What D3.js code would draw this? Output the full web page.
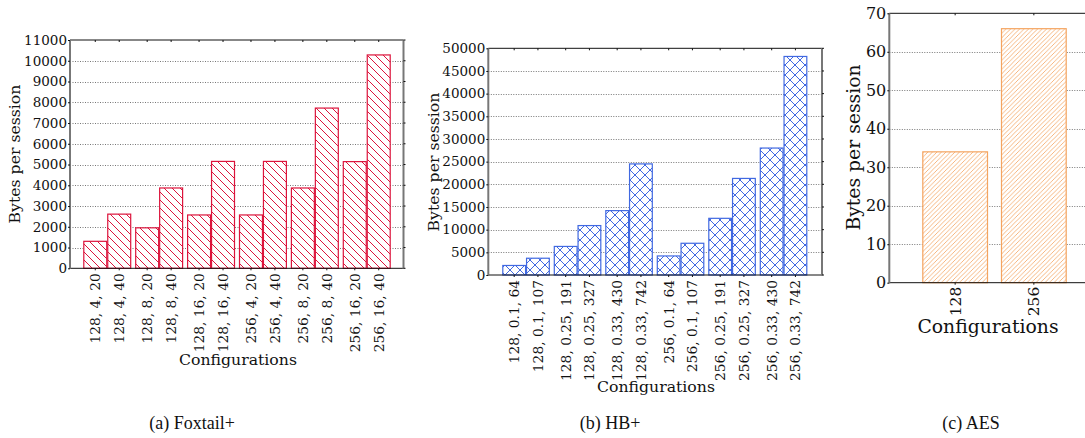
<!DOCTYPE html>
<html>
<head>
<meta charset="utf-8">
<script src="https://cdn.jsdelivr.net/npm/d3@7"></script>
<style>
  html, body { margin: 0; padding: 0; background: #fff; }
  svg { display: block; }
</style>
</head>
<body>
<svg id="chart" width="1085" height="438"></svg>
<script>
// ---------- DATA ----------
const foxtailCategories = ["128, 4, 20", "128, 4, 40", "128, 8, 20", "128, 8, 40", "128, 16, 20", "128, 16, 40",
                           "256, 4, 20", "256, 4, 40", "256, 8, 20", "256, 8, 40", "256, 16, 20", "256, 16, 40"];
const foxtailValues = [1300, 2610, 1950, 3870, 2570, 5150, 2570, 5150, 3870, 7720, 5140, 10280];
const foxtailTicks = [0, 1000, 2000, 3000, 4000, 5000, 6000, 7000, 8000, 9000, 10000, 11000];

const hbCategories = ["128, 0.1, 64", "128, 0.1, 107", "128, 0.25, 191", "128, 0.25, 327", "128, 0.33, 430", "128, 0.33, 742",
                      "256, 0.1, 64", "256, 0.1, 107", "256, 0.25, 191", "256, 0.25, 327", "256, 0.33, 430", "256, 0.33, 742"];
const hbValues = [2100, 3700, 6300, 10900, 14200, 24500, 4200, 7000, 12500, 21300, 28000, 48200];
const hbTicks = [0, 5000, 10000, 15000, 20000, 25000, 30000, 35000, 40000, 45000, 50000];

const aesCategories = ["128", "256"];
const aesValues = [34, 66];
const aesTicks = [0, 10, 20, 30, 40, 50, 60, 70];

const captions = ["(a) Foxtail+", "(b) HB+", "(c) AES"];
const yLabel = "Bytes per session";
const xLabel = "Configurations";

// ---------- DRAW ----------
const svg = d3.select("#chart");
const defs = svg.append("defs");
const FONT = "'DejaVu Serif', serif";

function makePattern(id, size, color, width, kind) {
  const p = defs.append("pattern").attr("id", id)
    .attr("patternUnits", "userSpaceOnUse").attr("width", size).attr("height", size);
  p.append("rect").attr("width", size).attr("height", size).attr("fill", "#fff");
  const add = (x1, y1, x2, y2) => p.append("line").attr("x1", x1).attr("y1", y1).attr("x2", x2).attr("y2", y2)
    .attr("stroke", color).attr("stroke-width", width);
  if (kind === "back" || kind === "cross") {
    add(-1, -1, size + 1, size + 1);
    add(-1, size - 1, 1, size + 1);
    add(size - 1, -1, size + 1, 1);
  }
  if (kind === "fwd" || kind === "cross") {
    add(-1, size + 1, size + 1, -1);
    add(-1, 1, 1, -1);
    add(size - 1, size + 1, size + 1, size - 1);
  }
}
makePattern("hatchA", 8, "#DC143C", 1, "back");
makePattern("hatchB", 10, "#4169E1", 1, "cross");
makePattern("hatchC", 4.5, "#F4A460", 0.8, "fwd");

function panel(o) {
  const g = svg.append("g");
  const y = d3.scaleLinear().domain([0, o.ticks[o.ticks.length - 1]]).range([o.bottom, o.top]);
  const groups = d3.range(Math.ceil(o.categories.length / o.groupSize));
  const gx = d3.scaleBand().domain(groups).range(o.barRange)
    .paddingInner(o.gap).paddingOuter(o.gap / 2);
  const ix = d3.scaleBand().domain(d3.range(o.groupSize)).range([0, gx.bandwidth()]);
  const data = o.categories.map((c, i) => ({ c, v: o.values[i], g: Math.floor(i / o.groupSize), k: i % o.groupSize }));
  const xOf = d => gx(d.g) + ix(d.k);

  // grid
  g.append("g").selectAll("line").data(o.ticks.slice(1, -1)).join("line")
    .attr("x1", o.left).attr("x2", o.right)
    .attr("y1", d => Math.round(y(d)) + 0.5).attr("y2", d => Math.round(y(d)) + 0.5)
    .attr("stroke", "#777").attr("stroke-width", 1).attr("stroke-dasharray", "1,1.5");

  // bars
  g.append("g").selectAll("rect").data(data).join("rect")
    .attr("x", d => xOf(d) + 0.5).attr("width", ix.bandwidth() - 1)
    .attr("y", d => y(d.v)).attr("height", d => y(0) - y(d.v))
    .attr("fill", `url(#${o.pattern})`).attr("stroke", o.color).attr("stroke-width", 1.2);

  // frame
  const right = Math.min(o.right, 1090);
  g.append("line").attr("x1", o.left).attr("x2", right).attr("y1", o.top).attr("y2", o.top)
    .attr("stroke", "#111").attr("stroke-width", 1);
  g.append("line").attr("x1", o.left).attr("x2", right).attr("y1", o.bottom).attr("y2", o.bottom)
    .attr("stroke", "#111").attr("stroke-width", 1);
  g.append("line").attr("x1", o.left).attr("x2", o.left).attr("y1", o.top).attr("y2", o.bottom + 0.5)
    .attr("stroke", "#777").attr("stroke-width", 2);
  if (o.showRight) {
    g.append("line").attr("x1", o.right).attr("x2", o.right).attr("y1", o.top).attr("y2", o.bottom + 0.5)
      .attr("stroke", "#777").attr("stroke-width", 2);
    g.append("g").selectAll("line").data(o.ticks).join("line")
      .attr("x1", o.right).attr("x2", o.right + 2).attr("y1", d => y(d)).attr("y2", d => y(d))
      .attr("stroke", "#111");
  }

  // y axis ticks
  const yAxis = d3.axisLeft(y).tickValues(o.ticks).tickSize(2).tickPadding(1).tickFormat(d3.format("d"));
  const ya = g.append("g").attr("transform", `translate(${o.left},0)`).call(yAxis);
  ya.select(".domain").remove();
  ya.selectAll("line").attr("stroke", "#111");
  ya.selectAll("text").attr("font-family", FONT).attr("font-size", o.yTickFont).attr("fill", "#111");

  // top ticks and bottom ticks at bar centers
  g.append("g").selectAll("line").data(data).join("line")
    .attr("x1", d => xOf(d) + ix.bandwidth() / 2).attr("x2", d => xOf(d) + ix.bandwidth() / 2)
    .attr("y1", o.top).attr("y2", o.top + 2).attr("stroke", "#111");
  g.append("g").selectAll("line").data(data).join("line")
    .attr("x1", d => xOf(d) + ix.bandwidth() / 2).attr("x2", d => xOf(d) + ix.bandwidth() / 2)
    .attr("y1", o.bottom).attr("y2", o.bottom + 2).attr("stroke", "#111");

  // x tick labels (rotated)
  g.append("g").selectAll("text").data(data).join("text")
    .attr("transform", d => `translate(${xOf(d) + ix.bandwidth() / 2},${o.bottom + o.labelGap}) rotate(-90)`)
    .attr("text-anchor", "end").attr("dy", "0.35em")
    .attr("font-family", FONT).attr("font-size", o.xTickFont).attr("fill", "#111")
    .text(d => d.c);

  // axis labels
  g.append("text").attr("transform", `translate(${o.yLabelX},${o.yLabelY}) rotate(-90)`)
    .attr("text-anchor", "middle").attr("dy", "0.35em")
    .attr("font-family", FONT).attr("font-size", o.labelFont).attr("fill", "#111").text(yLabel);
  g.append("text").attr("x", o.xLabelX).attr("y", o.xLabelY)
    .attr("text-anchor", "middle")
    .attr("font-family", FONT).attr("font-size", o.labelFont).attr("fill", "#111").text(xLabel);

  // caption
  svg.append("text").attr("x", o.captionX).attr("y", 429).attr("text-anchor", "middle")
    .attr("font-family", "'Liberation Serif', serif").attr("font-size", 18).attr("fill", "#111")
    .text(o.caption);
}

panel({
  categories: foxtailCategories, values: foxtailValues, ticks: foxtailTicks,
  left: 70, right: 403.5, top: 40, bottom: 268.3, showRight: true,
  barRange: [81.3, 392.7], groupSize: 2, gap: 4 / 52,
  pattern: "hatchA", color: "#DC143C",
  yTickFont: 13.5, xTickFont: 13.8, labelFont: 15.7, labelGap: 5,
  yLabelX: 14, yLabelY: 154, xLabelX: 238, xLabelY: 365,
  caption: captions[0], captionX: 192
});

panel({
  categories: hbCategories, values: hbValues, ticks: hbTicks,
  left: 488.3, right: 822, top: 48.3, bottom: 275, showRight: true,
  barRange: [500.3, 809.3], groupSize: 2, gap: 4 / 51.5,
  pattern: "hatchB", color: "#4169E1",
  yTickFont: 13.5, xTickFont: 13.8, labelFont: 15.7, labelGap: 5,
  yLabelX: 433, yLabelY: 162, xLabelX: 656, xLabelY: 392,
  caption: captions[1], captionX: 610
});

panel({
  categories: aesCategories, values: aesValues, ticks: aesTicks,
  left: 889.3, right: 1100, top: 13.3, bottom: 282.7, showRight: false,
  barRange: [915.8, 1073.2], groupSize: 1, gap: 13 / 78.7,
  pattern: "hatchC", color: "#F4A460",
  yTickFont: 16, xTickFont: 15.5, labelFont: 18.8, labelGap: 4,
  yLabelX: 853, yLabelY: 147.5, xLabelX: 988, xLabelY: 333,
  caption: captions[2], captionX: 971
});
</script>
</body>
</html>
